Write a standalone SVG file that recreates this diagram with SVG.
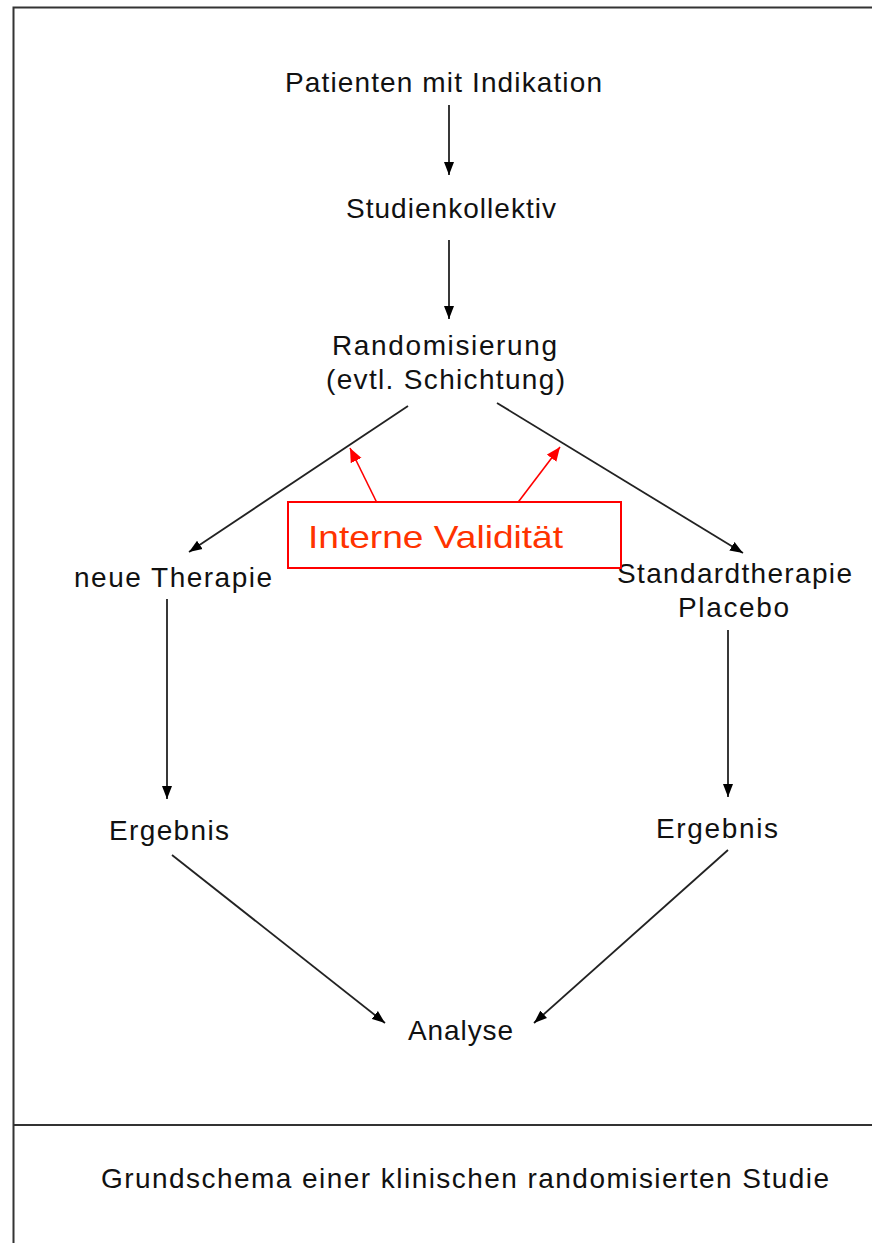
<svg xmlns="http://www.w3.org/2000/svg" width="872" height="1243" viewBox="0 0 872 1243">
<style>
.t{font-family:"Liberation Sans",Arial,sans-serif;font-size:28px;fill:#111;text-anchor:middle}
.c{stroke:#222;stroke-width:1.8;fill:none;marker-end:url(#ah)}
.r{stroke:#ff0000;stroke-width:1.6;fill:none;marker-end:url(#ahr)}
</style>
<defs>
<marker id="ah" markerUnits="userSpaceOnUse" markerWidth="14" markerHeight="11" refX="13" refY="5.5" orient="auto">
<path d="M0,0.5 L13,5.5 L0,10.5 z" fill="#000"/>
</marker>
<marker id="ahr" markerUnits="userSpaceOnUse" markerWidth="15" markerHeight="13" refX="14" refY="6.5" orient="auto">
<path d="M0,0.5 L14,6.5 L0,12.5 z" fill="#ff0000"/>
</marker>
</defs>
<rect width="872" height="1243" fill="#fff"/>
<g id="frame" stroke="#333" stroke-width="2" fill="none">
<path d="M13.5,1243 L13.5,7.5 L872,7.5"/>
<path d="M13.5,1125 L872,1125"/>
</g>
<g id="connectors">
<line class="c" x1="449" y1="105" x2="449" y2="175"/>
<line class="c" x1="449" y1="240" x2="449" y2="319"/>
<line class="c" x1="408" y1="406" x2="189" y2="552"/>
<line class="c" x1="497" y1="403" x2="743" y2="553"/>
<line class="c" x1="167" y1="599" x2="167" y2="799"/>
<line class="c" x1="728" y1="630" x2="728" y2="797"/>
<line class="c" x1="172" y1="855" x2="385" y2="1023"/>
<line class="c" x1="728" y1="850" x2="534" y2="1023"/>
<line class="r" x1="378" y1="505" x2="350" y2="448"/>
<line class="r" x1="516" y1="505" x2="560" y2="447"/>
</g>
<g id="n1"><text class="t" x="443.5" y="92" textLength="317" lengthAdjust="spacing">Patienten mit Indikation</text></g>
<g id="n2"><text class="t" x="451" y="218" textLength="210" lengthAdjust="spacing">Studienkollektiv</text></g>
<g id="n3"><text class="t" x="444.5" y="355" textLength="225" lengthAdjust="spacing">Randomisierung</text><text class="t" x="445.5" y="389" textLength="239" lengthAdjust="spacing">(evtl. Schichtung)</text></g>
<g id="n4"><text class="t" x="173" y="587" textLength="198" lengthAdjust="spacing">neue Therapie</text></g>
<g id="n5"><text class="t" x="734.5" y="583" textLength="235" lengthAdjust="spacing">Standardtherapie</text><text class="t" x="733.5" y="617" textLength="111" lengthAdjust="spacing">Placebo</text></g>
<g id="n6"><text class="t" x="169" y="840" textLength="120" lengthAdjust="spacing">Ergebnis</text></g>
<g id="n7"><text class="t" x="717" y="838" textLength="122" lengthAdjust="spacing">Ergebnis</text></g>
<g id="n8"><text class="t" x="460.5" y="1040" textLength="105" lengthAdjust="spacing">Analyse</text></g>
<g id="validity">
<rect x="288" y="502" width="333" height="66" fill="#fff" stroke="#ff0000" stroke-width="2"/>
<text x="308" y="548" font-family="Liberation Sans, Arial, sans-serif" font-size="32" fill="#ff3300" textLength="255" lengthAdjust="spacingAndGlyphs">Interne Validität</text>
</g>
<g id="caption"><text class="t" x="465" y="1188" textLength="728" lengthAdjust="spacing">Grundschema einer klinischen randomisierten Studie</text></g>
</svg>
